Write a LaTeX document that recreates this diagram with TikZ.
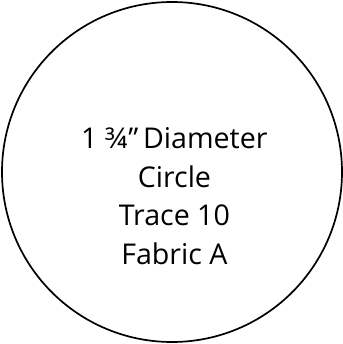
\documentclass[tikz,border=0pt]{standalone}
\usepackage{fontspec}
\setmainfont{Open Sans}
\usetikzlibrary{positioning}
\definecolor{ink}{HTML}{000000}
\tikzset{
  traceline/.style={draw=ink,line width=0.85pt,circle,inner sep=0pt,
                    minimum size=170pt},
  tracetext/.style={align=center,font=\fontsize{14.3}{19.2}\selectfont,
                    text=ink,inner sep=0pt}
}
\begin{document}
\begin{tikzpicture}[x=1pt,y=1pt]
    \path[use as bounding box] (0,0) rectangle (171.5,172);
    \node[traceline] (disc) at (86,86) {};
    \node[tracetext,anchor=base] (label) at (87.2,40)
      {1 ¾\kern0.5pt”\,Diameter\\Circle\\Trace 10\\Fabric A};
  \end{tikzpicture}
\end{document}
